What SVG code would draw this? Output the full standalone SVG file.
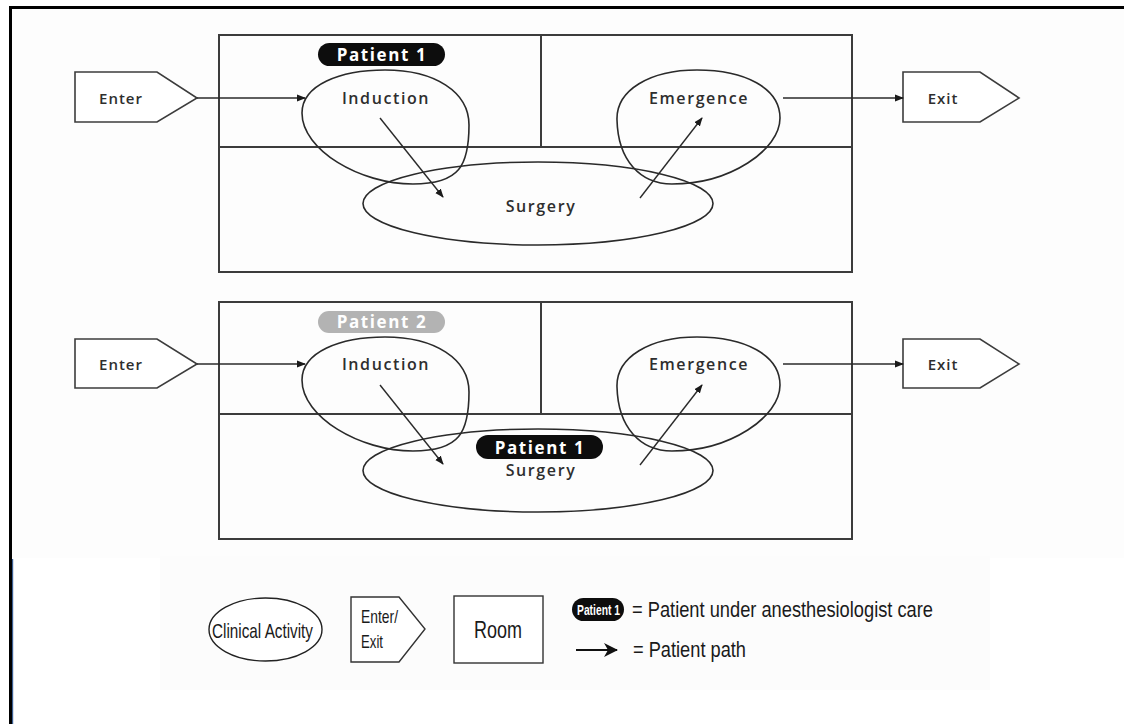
<svg xmlns="http://www.w3.org/2000/svg" width="1124" height="724" viewBox="0 0 1124 724">
  <style>
    .room { fill: none; stroke: #3c3c3c; stroke-width: 2; }
    .act { fill: none; stroke: #2a2a2a; stroke-width: 1.6; }
    .gate { fill: #ffffff; stroke: #3c3c3c; stroke-width: 1.6; }
    .lbl { font-family: "Open Sans", "DejaVu Sans", sans-serif; font-size: 16px; font-weight: 600; letter-spacing: 1.6px; fill: #2e2e2e; text-anchor: middle; }
    .pill-t { font-family: "Open Sans", "DejaVu Sans", sans-serif; font-size: 17px; font-weight: bold; letter-spacing: 1.6px; fill: #ffffff; text-anchor: middle; }
    .path { fill: none; stroke: #2a2a2a; stroke-width: 1.4; marker-end: url(#arrow); }
    .leg { font-family: "Liberation Sans Narrow", "Liberation Sans", sans-serif; fill: #1a1a1a; }
  </style>
  <defs>
    <marker id="arrow" markerUnits="userSpaceOnUse" markerWidth="9" markerHeight="8" refX="8" refY="4" orient="auto">
      <path d="M0,0.5 L9,4 L0,7.5 Z" fill="#1a1a1a"/>
    </marker>
    <marker id="arrow-big" markerUnits="userSpaceOnUse" markerWidth="14" markerHeight="14" refX="13" refY="7" orient="auto">
      <path d="M0,0 L14,7 L0,14 L4,7 Z" fill="#111111"/>
    </marker>
  </defs>

  <!-- page frame -->
  <rect x="0" y="0" width="1124" height="724" fill="#ffffff"/>
  <rect x="12" y="9" width="1112" height="549" fill="#fdfdfd"/>
  <line x1="9" y1="7.5" x2="1124" y2="7.5" stroke="#000000" stroke-width="3"/>
  <line x1="10.5" y1="6" x2="10.5" y2="724" stroke="#000000" stroke-width="3"/>
  <line x1="12.6" y1="559" x2="12.6" y2="724" stroke="#3b5f94" stroke-width="1.2"/>

  <!-- ===== Stage 1: patient 1 in induction ===== -->
  <g id="room-1">
    <rect class="room" x="219" y="35" width="633" height="237"/>
    <line class="room" x1="219" y1="147" x2="852" y2="147"/>
    <line class="room" x1="541" y1="35" x2="541" y2="147"/>
  </g>
  <g id="enter-1">
    <polygon class="gate" points="75,72 157,72 197,98 157,122 75,122"/>
    <text class="lbl" x="121" y="104" style="font-size:15px;letter-spacing:1px">Enter</text>
  </g>
  <g id="induction-1">
    <path class="act" d="M385,70 C435,70 469,92 469,125 C469,165 460,184 413,184 C360,184 302,150 302,113 C302,85 340,70 385,70 Z"/>
    <text class="lbl" x="386" y="104">Induction</text>
  </g>
  <g id="patient1-tag-1">
    <rect x="318" y="43" width="127" height="23" rx="11.5" fill="#0d0d0d"/>
    <text class="pill-t" x="382" y="61">Patient 1</text>
  </g>
  <g id="surgery-1">
    <ellipse class="act" cx="538" cy="203.5" rx="175" ry="41.5"/>
    <text class="lbl" x="541" y="212">Surgery</text>
  </g>
  <g id="emergence-1">
    <path class="act" d="M697,70 C745,70 780,88 780,118 C780,150 730,184 672,184 C640,184 618,160 617,120 C616,90 650,70 697,70 Z"/>
    <text class="lbl" x="699" y="104">Emergence</text>
  </g>
  <g id="exit-1">
    <polygon class="gate" points="903,72 980,72 1019,98 980,122 903,122"/>
    <text class="lbl" x="943" y="104" style="font-size:15px;letter-spacing:1px">Exit</text>
  </g>
  <g id="connectors-1">
    <line class="path" x1="197" y1="98" x2="305" y2="98"/>
    <line class="path" x1="380" y1="118" x2="443" y2="197"/>
    <line class="path" x1="640" y1="198" x2="702" y2="118"/>
    <line class="path" x1="783" y1="98" x2="903" y2="98"/>
  </g>

  <!-- ===== Stage 2: patient 1 in surgery, patient 2 in induction ===== -->
  <g transform="translate(0,267)">
    <g id="room-2">
      <rect class="room" x="219" y="35" width="633" height="237"/>
      <line class="room" x1="219" y1="147" x2="852" y2="147"/>
      <line class="room" x1="541" y1="35" x2="541" y2="147"/>
    </g>
    <g id="enter-2">
      <polygon class="gate" points="75,72 157,72 197,97 157,121 75,121"/>
      <text class="lbl" x="121" y="103" style="font-size:15px;letter-spacing:1px">Enter</text>
    </g>
    <g id="induction-2">
      <path class="act" d="M385,70 C435,70 469,92 469,125 C469,165 460,184 413,184 C360,184 302,150 302,113 C302,85 340,70 385,70 Z"/>
      <text class="lbl" x="386" y="103">Induction</text>
    </g>
    <g id="patient2-tag">
      <rect x="318" y="44" width="127" height="22" rx="11" fill="#b3b3b3"/>
      <text class="pill-t" x="382" y="61">Patient 2</text>
    </g>
    <g id="surgery-2">
      <ellipse class="act" cx="538" cy="203.5" rx="175" ry="41.5"/>
      <text class="lbl" x="541" y="209">Surgery</text>
    </g>
    <g id="patient1-tag-2">
      <rect x="476" y="168" width="127" height="24" rx="12" fill="#0d0d0d"/>
      <text class="pill-t" x="540" y="187">Patient 1</text>
    </g>
    <g id="emergence-2">
      <path class="act" d="M697,70 C745,70 780,88 780,118 C780,150 730,184 672,184 C640,184 618,160 617,120 C616,90 650,70 697,70 Z"/>
      <text class="lbl" x="699" y="103">Emergence</text>
    </g>
    <g id="exit-2">
      <polygon class="gate" points="903,72 980,72 1019,97 980,121 903,121"/>
      <text class="lbl" x="943" y="103" style="font-size:15px;letter-spacing:1px">Exit</text>
    </g>
    <g id="connectors-2">
      <line class="path" x1="197" y1="97" x2="305" y2="97"/>
      <line class="path" x1="380" y1="118" x2="443" y2="197"/>
      <line class="path" x1="640" y1="198" x2="702" y2="118"/>
      <line class="path" x1="783" y1="97" x2="903" y2="97"/>
    </g>
  </g>

  <!-- ===== Legend ===== -->
  <g id="legend">
    <rect x="160" y="556" width="830" height="134" fill="#fcfcfc"/>
    <g id="legend-activity">
      <ellipse cx="265.5" cy="629.5" rx="56.5" ry="31.5" fill="#ffffff" stroke="#222222" stroke-width="1.4"/>
      <text class="leg" x="212" y="638" font-size="21" textLength="101" lengthAdjust="spacingAndGlyphs">Clinical Activity</text>
    </g>
    <g id="legend-gate">
      <polygon points="351,597 399,597 425,629 399,662 351,662" fill="#ffffff" stroke="#333333" stroke-width="1.4"/>
      <text class="leg" x="361" y="623" font-size="19" textLength="37" lengthAdjust="spacingAndGlyphs">Enter/</text>
      <text class="leg" x="361" y="648" font-size="19" textLength="22" lengthAdjust="spacingAndGlyphs">Exit</text>
    </g>
    <g id="legend-room">
      <rect x="454" y="596" width="89" height="67" fill="#ffffff" stroke="#333333" stroke-width="1.4"/>
      <text class="leg" x="474" y="638" font-size="24" textLength="48" lengthAdjust="spacingAndGlyphs">Room</text>
    </g>
    <g id="legend-care">
      <rect x="572" y="598" width="52" height="23" rx="11.5" fill="#0d0d0d"/>
      <text class="leg" x="577" y="615" font-size="14" font-weight="bold" style="fill:#ffffff" textLength="43" lengthAdjust="spacingAndGlyphs">Patient 1</text>
      <text class="leg" x="632" y="617" font-size="22" textLength="301" lengthAdjust="spacingAndGlyphs">= Patient under anesthesiologist care</text>
    </g>
    <g id="legend-path">
      <line x1="576" y1="650" x2="617" y2="650" stroke="#111111" stroke-width="2.2" marker-end="url(#arrow-big)"/>
      <text class="leg" x="633" y="657" font-size="22" textLength="113" lengthAdjust="spacingAndGlyphs">= Patient path</text>
    </g>
  </g>
</svg>
